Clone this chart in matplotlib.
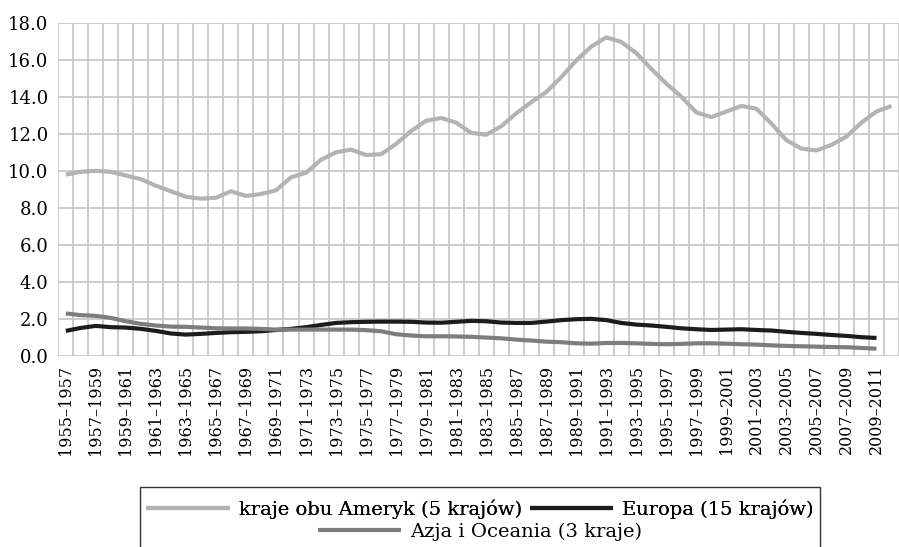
import numpy as np
import matplotlib
matplotlib.use("Agg")
import matplotlib.pyplot as plt
from matplotlib.patches import Rectangle

plt.rcParams["font.family"] = ["DejaVu Serif"]

# ---- data ----
start_years = list(range(1955, 2011))          # 56 three-year windows
categories = [f"{y}\u2013{y + 2}" for y in start_years]

americas = [9.8, 9.95, 10.0, 9.95, 9.75, 9.55, 9.2, 8.9, 8.6, 8.5,
            8.55, 8.9, 8.65, 8.75, 8.95, 9.65, 9.9, 10.6, 11.0, 11.15,
            10.85, 10.9, 11.45, 12.15, 12.7, 12.85, 12.6, 12.05, 11.95, 12.4,
            13.1, 13.7, 14.25, 15.05, 15.95, 16.7, 17.2, 16.95, 16.35, 15.5,
            14.7, 14.0, 13.15, 12.9, 13.2, 13.5, 13.35, 12.55, 11.65, 11.2,
            11.1, 11.4, 11.85, 12.6, 13.2, 13.5]

europe = [1.37, 1.53, 1.64, 1.57, 1.55, 1.48, 1.37, 1.23, 1.17, 1.21,
          1.26, 1.3, 1.32, 1.35, 1.42, 1.48, 1.57, 1.69, 1.8, 1.84,
          1.86, 1.87, 1.87, 1.86, 1.82, 1.81, 1.86, 1.91, 1.89, 1.82,
          1.8, 1.8, 1.87, 1.95, 2.0, 2.02, 1.95, 1.8, 1.71, 1.66,
          1.59, 1.51, 1.46, 1.42, 1.44, 1.46, 1.42, 1.39, 1.32, 1.26,
          1.21, 1.15, 1.1, 1.03, 0.99]

asia = [2.31, 2.22, 2.18, 2.07, 1.89, 1.75, 1.66, 1.6, 1.59, 1.55,
        1.51, 1.5, 1.5, 1.48, 1.44, 1.44, 1.44, 1.44, 1.44, 1.44,
        1.41, 1.35, 1.19, 1.12, 1.08, 1.08, 1.07, 1.05, 1.01, 0.97,
        0.9, 0.85, 0.79, 0.76, 0.7, 0.68, 0.72, 0.72, 0.7, 0.67,
        0.65, 0.67, 0.7, 0.7, 0.68, 0.65, 0.63, 0.59, 0.56, 0.54,
        0.52, 0.5, 0.49, 0.45, 0.41]

series_labels = ["kraje obu Ameryk (5 krajów)", "Europa (15 krajów)",
                 "Azja i Oceania (3 kraje)"]
series_colors = ["#b3b3b3", "#1c1c1c", "#7d7d7d"]

y_ticks = [0, 2, 4, 6, 8, 10, 12, 14, 16, 18]

# ---- figure ----
W, H = 899, 547
fig = plt.figure(figsize=(W / 100, H / 100), dpi=100)
ax_left, ax_top, ax_bottom = 58.3, 22.5, 356.3
ax = fig.add_axes([ax_left / W, (H - ax_bottom) / H,
                   1 - ax_left / W, (ax_bottom - ax_top) / H])

x_all = np.arange(len(categories))

lines = []
for vals, col in zip([americas, europe, asia], series_colors):
    ln, = ax.plot(x_all[:len(vals)], vals, color=col, lw=3.0,
                  solid_capstyle="butt", solid_joinstyle="round", zorder=3)
    lines.append(ln)

ax.set_ylim(0, 18)
ax.set_xlim(-0.5, 55.23)
ax.set_yticks(y_ticks)
ax.set_yticklabels([f"{v:.1f}" for v in y_ticks], fontsize=13)

major = x_all[::2]
ax.set_xticks(major)
ax.set_xticklabels([categories[i] for i in major], rotation=90, fontsize=11.5)
ax.set_xticks(np.arange(-0.5, len(categories), 1.0), minor=True)

ax.tick_params(axis="both", which="both", length=0)
ax.tick_params(axis="y", pad=7)
ax.tick_params(axis="x", pad=6)

grid_c = "#c8c8c8"
ax.grid(True, axis="y", which="major", color=grid_c, lw=1.3, zorder=0)
ax.grid(True, axis="x", which="minor", color=grid_c, lw=1.3, zorder=0)
ax.grid(False, axis="x", which="major")
for s in ax.spines.values():
    s.set_visible(False)
ax.set_axisbelow(True)

# ---- legend (two centred rows, shared frame) ----
cx = 480 / W
leg_font = {"size": 14}
leg1 = fig.legend(lines[:2], series_labels[:2], ncol=2, frameon=False,
                  loc="center", bbox_to_anchor=(cx, (H - 509) / H),
                  borderpad=0, borderaxespad=0, handlelength=4.3,
                  handletextpad=0.45, columnspacing=0.4, prop=leg_font)
leg2 = fig.legend(lines[2:], series_labels[2:], frameon=False,
                  loc="center", bbox_to_anchor=(cx, (H - 532) / H),
                  borderpad=0, borderaxespad=0, handlelength=4.3,
                  handletextpad=0.45, prop=leg_font)
fig.add_artist(leg1)
for leg in (leg1, leg2):
    for h in leg.get_lines():
        h.set_linewidth(3.0)

frame = Rectangle((140 / W, -0.05), (820 - 140) / W, (H - 487) / H + 0.05,
                  transform=fig.transFigure, fill=False, edgecolor="#333333",
                  lw=1.0, clip_on=False)
fig.add_artist(frame)

fig.savefig("out.png", dpi=100)
